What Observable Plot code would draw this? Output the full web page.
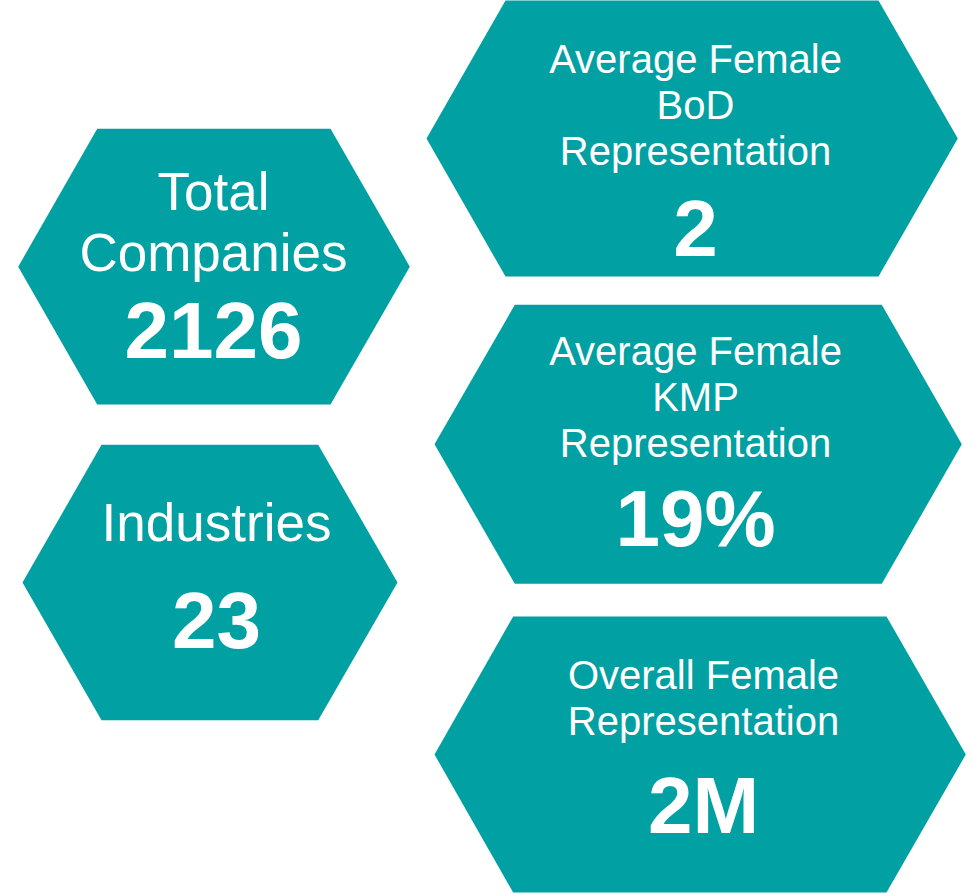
<!DOCTYPE html>
<html>
<head>
<meta charset="utf-8">
<script src="https://cdn.jsdelivr.net/npm/d3@7"></script>
<script src="https://cdn.jsdelivr.net/npm/@observablehq/plot@0.6"></script>
<style>
  html, body { margin: 0; padding: 0; background: #ffffff; }
  #chart svg { display: block; }
</style>
</head>
<body>
<div id="chart"></div>
<script>
// ---- data ----
const cardLabels = [
  "Total\nCompanies",
  "Industries",
  "Average Female\nBoD\nRepresentation",
  "Average Female\nKMP\nRepresentation",
  "Overall Female\nRepresentation"
];
const cardValues = ["2126", "23", "2", "19%", "2M"];

// ---- layout (hexagon geometry in pixels) ----
const hexX0  = [17.7, 22, 426, 434, 434];        // left vertex
const hexX1  = [409.3, 397, 957.3, 961.3, 965.3]; // right vertex
const hexTX0 = [96.7, 101, 505, 514.3, 512.7];    // top/bottom edge left end
const hexTX1 = [330, 317.7, 878, 881.3, 886];     // top/bottom edge right end
const hexY0  = [128.3, 444.3, 0, 304.3, 616];     // top edge
const hexY1  = [404, 719.7, 276, 583.3, 892];     // bottom edge
const textX  = [213, 216, 695, 695, 703];
const labelBase0 = [209, 540.7, 72, 364, 688.3];  // first label baseline
const labelStep  = [61, 61, 46, 46, 46];
const labelSize  = [53, 53, 40, 40, 40];
const valueBase  = [357, 647.3, 255, 545, 832.5];
const valueSize  = 80;
const teal = "#01A0A3";

const hexPts = [];
cardLabels.forEach((_, i) => {
  const ym = (hexY0[i] + hexY1[i]) / 2;
  const v = [
    [hexTX0[i], hexY0[i]], [hexTX1[i], hexY0[i]], [hexX1[i], ym],
    [hexTX1[i], hexY1[i]], [hexTX0[i], hexY1[i]], [hexX0[i], ym],
    [hexTX0[i], hexY0[i]]
  ];
  v.forEach(([x, y]) => hexPts.push({card: i, x, y}));
});

const labelRows = [];
cardLabels.forEach((lab, i) => {
  lab.split("\n").forEach((line, k) => {
    labelRows.push({card: i, text: line, x: textX[i], y: labelBase0[i] + k * labelStep[i], size: labelSize[i]});
  });
});
const valueRows = cardValues.map((v, i) => ({card: i, text: v, x: textX[i], y: valueBase[i]}));

const font = "Liberation Sans, Arial, Helvetica, sans-serif";

const chart = Plot.plot({
  width: 974,
  height: 893,
  margin: 0,
  x: {domain: [0, 974], range: [0, 974], axis: null},
  y: {domain: [0, 893], range: [0, 893], axis: null},
  style: {background: "#ffffff", fontFamily: font},
  marks: [
    Plot.line(hexPts, {x: "x", y: "y", z: "card", fill: teal, stroke: "none", curve: "linear-closed"}),
    ...[53, 40].map(sz => Plot.text(labelRows.filter(d => d.size === sz), {
      x: "x", y: "y", text: "text", fill: "#ffffff", fontSize: sz,
      fontFamily: font, textAnchor: "middle", lineAnchor: "bottom"
    })),
    Plot.text(valueRows, {
      x: "x", y: "y", text: "text", fill: "#ffffff", fontSize: valueSize,
      fontWeight: "bold", fontFamily: font, textAnchor: "middle", lineAnchor: "bottom"
    })
  ]
});
document.getElementById("chart").appendChild(chart);
</script>
</body>
</html>
